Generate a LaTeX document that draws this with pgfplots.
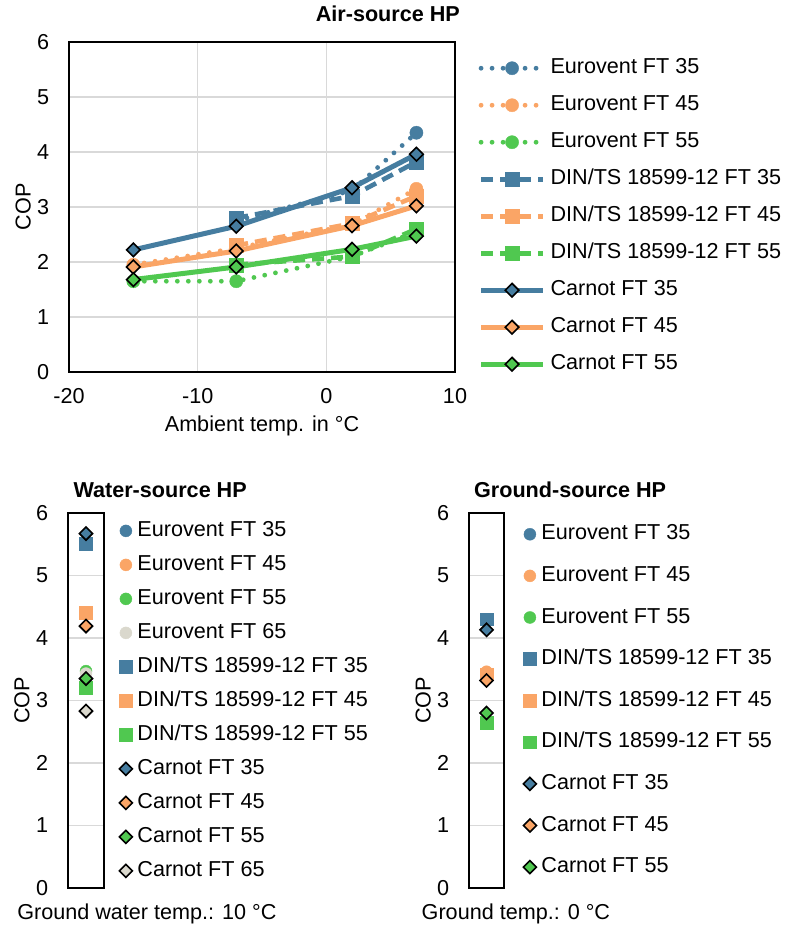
\documentclass[border=0pt]{standalone}
\usepackage{fontspec}
\setmainfont{Liberation Sans}
\usepackage{pgfplots}
\pgfplotsset{compat=1.18}
\definecolor{cBlue}{RGB}{70,125,160}
\definecolor{cOrange}{RGB}{250,165,102}
\definecolor{cGreen}{RGB}{80,200,80}
\definecolor{cGray}{RGB}{218,216,205}
\definecolor{gridgray}{RGB}{217,217,217}

\pgfplotsset{
  cop/.style={
    scale only axis,
    ymin=0,ymax=6,ytick={0,1,2,3,4,5,6},
    ymajorgrids,
    grid style={gridgray,line width=0.75pt},
    axis line style={black,line width=1pt},
    major tick length=0pt,
    /pgf/number format/assume math mode=true,
    tick label style={font=\fontsize{10.8}{13}\selectfont,inner sep=0pt},
    yticklabel style={anchor=east,xshift=-9.7pt},
    label style={font=\fontsize{10.8}{13}\selectfont},
    ylabel={COP},
    title style={font=\fontsize{10.8}{13}\selectfont\bfseries,anchor=base},
    legend style={draw=none,fill=none,inner sep=0pt,
      font=\fontsize{10.8}{13}\selectfont,
      nodes={inner sep=0pt,text height=7.8pt,text depth=2.2pt},
      cells={anchor=west}},
  },
  eu/.style={only marks,mark=*,mark size=3pt,
    mark options={line width=0.2pt,draw=#1,fill=#1}},
  din/.style={only marks,mark=square*,mark size=3.2pt,
    mark options={line width=0.2pt,draw=#1,fill=#1}},
  car/.style={only marks,mark=square*,mark size=2.3pt,
    mark options={rotate=45,draw=black,fill=#1,line width=0.8pt}},
  % line variants for the air-source chart
  leu/.style={#1,line width=2.4pt,line cap=round,dash pattern=on 0pt off 5.5pt,
    mark=*,mark size=3.3pt,mark options={solid,line width=0.2pt,draw=#1,fill=#1}},
  ldin/.style={#1,line width=2.3pt,dash pattern=on 6pt off 3.5pt,
    mark=square*,mark size=3.5pt,mark options={solid,line width=0.2pt,draw=#1,fill=#1}},
  lcar/.style={#1,line width=2.5pt,
    mark=square*,mark size=2.4pt,
    mark options={solid,rotate=45,draw=black,fill=#1,line width=0.8pt}},
}

\begin{document}
\fontsize{10.8}{13}\selectfont
\begin{tikzpicture}
\useasboundingbox (0,0) rectangle (392pt,464.5pt);

% ---------------- Air-source HP ----------------
\begin{axis}[cop,
  at={(34.5pt,278.5pt)},anchor=south west,
  width=193pt,height=165pt,
  xmin=-20,xmax=10,xtick={-20,-10,0,10},
  xmajorgrids,
  xticklabel style={anchor=base,yshift=-16pt},
  xlabel={Ambient temp. in °C},
  xlabel style={at={(axis description cs:0.5,0)},anchor=base,yshift=-30pt},
  ylabel style={at={(axis description cs:-0.119,0.5)},anchor=center},
  title={Air-source HP},
  title style={at={(axis description cs:0.826,1)},yshift=4pt},
  legend style={at={(axis description cs:1.06,0.952)},anchor=north west,
    row sep=8.5pt,column sep=2.5pt},
  legend image code/.code={\draw[mark repeat=2,mark phase=2,#1]
    plot coordinates {(0pt,0pt) (15.5pt,0pt) (31pt,0pt)};},
]
\addplot[leu=cBlue] coordinates {(-7,2.75) (2,3.3) (7,4.35)};
\addlegendentry{Eurovent FT 35}
\addplot[leu=cOrange] coordinates {(-15,1.95) (-7,2.25) (2,2.68) (7,3.33)};
\addlegendentry{Eurovent FT 45}
\addplot[leu=cGreen] coordinates {(-15,1.65) (-7,1.65) (2,2.1) (7,2.55)};
\addlegendentry{Eurovent FT 55}
\addplot[ldin=cBlue] coordinates {(-7,2.8) (2,3.2) (7,3.82)};
\addlegendentry{DIN/TS 18599-12 FT 35}
\addplot[ldin=cOrange] coordinates {(-7,2.3) (2,2.7) (7,3.2)};
\addlegendentry{DIN/TS 18599-12 FT 45}
\addplot[ldin=cGreen] coordinates {(-7,1.95) (2,2.1) (7,2.6)};
\addlegendentry{DIN/TS 18599-12 FT 55}
\addplot[lcar=cBlue] coordinates {(-15,2.22) (-7,2.65) (2,3.35) (7,3.96)};
\addlegendentry{Carnot FT 35}
\addplot[lcar=cOrange] coordinates {(-15,1.91) (-7,2.2) (2,2.66) (7,3.02)};
\addlegendentry{Carnot FT 45}
\addplot[lcar=cGreen] coordinates {(-15,1.68) (-7,1.91) (2,2.23) (7,2.47)};
\addlegendentry{Carnot FT 55}
\end{axis}

% ---------------- Water-source HP ----------------
\begin{axis}[cop,
  at={(34pt,20.5pt)},anchor=south west,
  width=18pt,height=187.5pt,
  xmin=-1,xmax=1,xtick=\empty,
  xlabel={Ground water temp.: 10 °C},
  xlabel style={at={(axis description cs:2.19,0)},anchor=base,yshift=-16pt},
  ylabel style={at={(axis description cs:-1.28,0.5)},anchor=center},
  title={Water-source HP},
  title style={at={(axis description cs:2.56,1)},yshift=1.5pt},
  legend style={at={(axis description cs:1.417,0.98)},anchor=north west,
    row sep=7pt,column sep=2.5pt},
  legend image code/.code={\draw[#1] plot coordinates {(3pt,0pt)};},
]
\addplot[eu=cBlue] coordinates {(0,5.51)};
\addlegendentry{Eurovent FT 35}
\addplot[eu=cOrange] coordinates {(0,4.4)};
\addlegendentry{Eurovent FT 45}
\addplot[eu=cGreen] coordinates {(0,3.47)};
\addlegendentry{Eurovent FT 55}
\addplot[eu=cGray] coordinates {(0,3.43)};
\addlegendentry{Eurovent FT 65}
\addplot[din=cBlue] coordinates {(0,5.51)};
\addlegendentry{DIN/TS 18599-12 FT 35}
\addplot[din=cOrange] coordinates {(0,4.4)};
\addlegendentry{DIN/TS 18599-12 FT 45}
\addplot[din=cGreen] coordinates {(0,3.2)};
\addlegendentry{DIN/TS 18599-12 FT 55}
\addplot[car=cBlue] coordinates {(0,5.67)};
\addlegendentry{Carnot FT 35}
\addplot[car=cOrange] coordinates {(0,4.19)};
\addlegendentry{Carnot FT 45}
\addplot[car=cGreen] coordinates {(0,3.35)};
\addlegendentry{Carnot FT 55}
\addplot[car=cGray] coordinates {(0,2.83)};
\addlegendentry{Carnot FT 65}
\end{axis}

% ---------------- Ground-source HP ----------------
\begin{axis}[cop,
  at={(234.5pt,20.5pt)},anchor=south west,
  width=17.5pt,height=187.5pt,
  xmin=-1,xmax=1,xtick=\empty,
  xlabel={Ground temp.: 0 °C},
  xlabel style={at={(axis description cs:1.34,0)},anchor=base,yshift=-16pt},
  ylabel style={at={(axis description cs:-1.31,0.5)},anchor=center},
  title={Ground-source HP},
  title style={at={(axis description cs:2.89,1)},yshift=1.5pt},
  legend style={at={(axis description cs:1.543,0.971)},anchor=north west,
    row sep=10.8pt,column sep=2.5pt},
  legend image code/.code={\draw[#1] plot coordinates {(3pt,0pt)};},
]
\addplot[eu=cBlue] coordinates {(0,4.3)};
\addlegendentry{Eurovent FT 35}
\addplot[eu=cOrange] coordinates {(0,3.46)};
\addlegendentry{Eurovent FT 45}
\addplot[eu=cGreen] coordinates {(0,2.65)};
\addlegendentry{Eurovent FT 55}
\addplot[din=cBlue] coordinates {(0,4.3)};
\addlegendentry{DIN/TS 18599-12 FT 35}
\addplot[din=cOrange] coordinates {(0,3.42)};
\addlegendentry{DIN/TS 18599-12 FT 45}
\addplot[din=cGreen] coordinates {(0,2.64)};
\addlegendentry{DIN/TS 18599-12 FT 55}
\addplot[car=cBlue] coordinates {(0,4.13)};
\addlegendentry{Carnot FT 35}
\addplot[car=cOrange] coordinates {(0,3.32)};
\addlegendentry{Carnot FT 45}
\addplot[car=cGreen] coordinates {(0,2.8)};
\addlegendentry{Carnot FT 55}
\end{axis}
\end{tikzpicture}
\end{document}
